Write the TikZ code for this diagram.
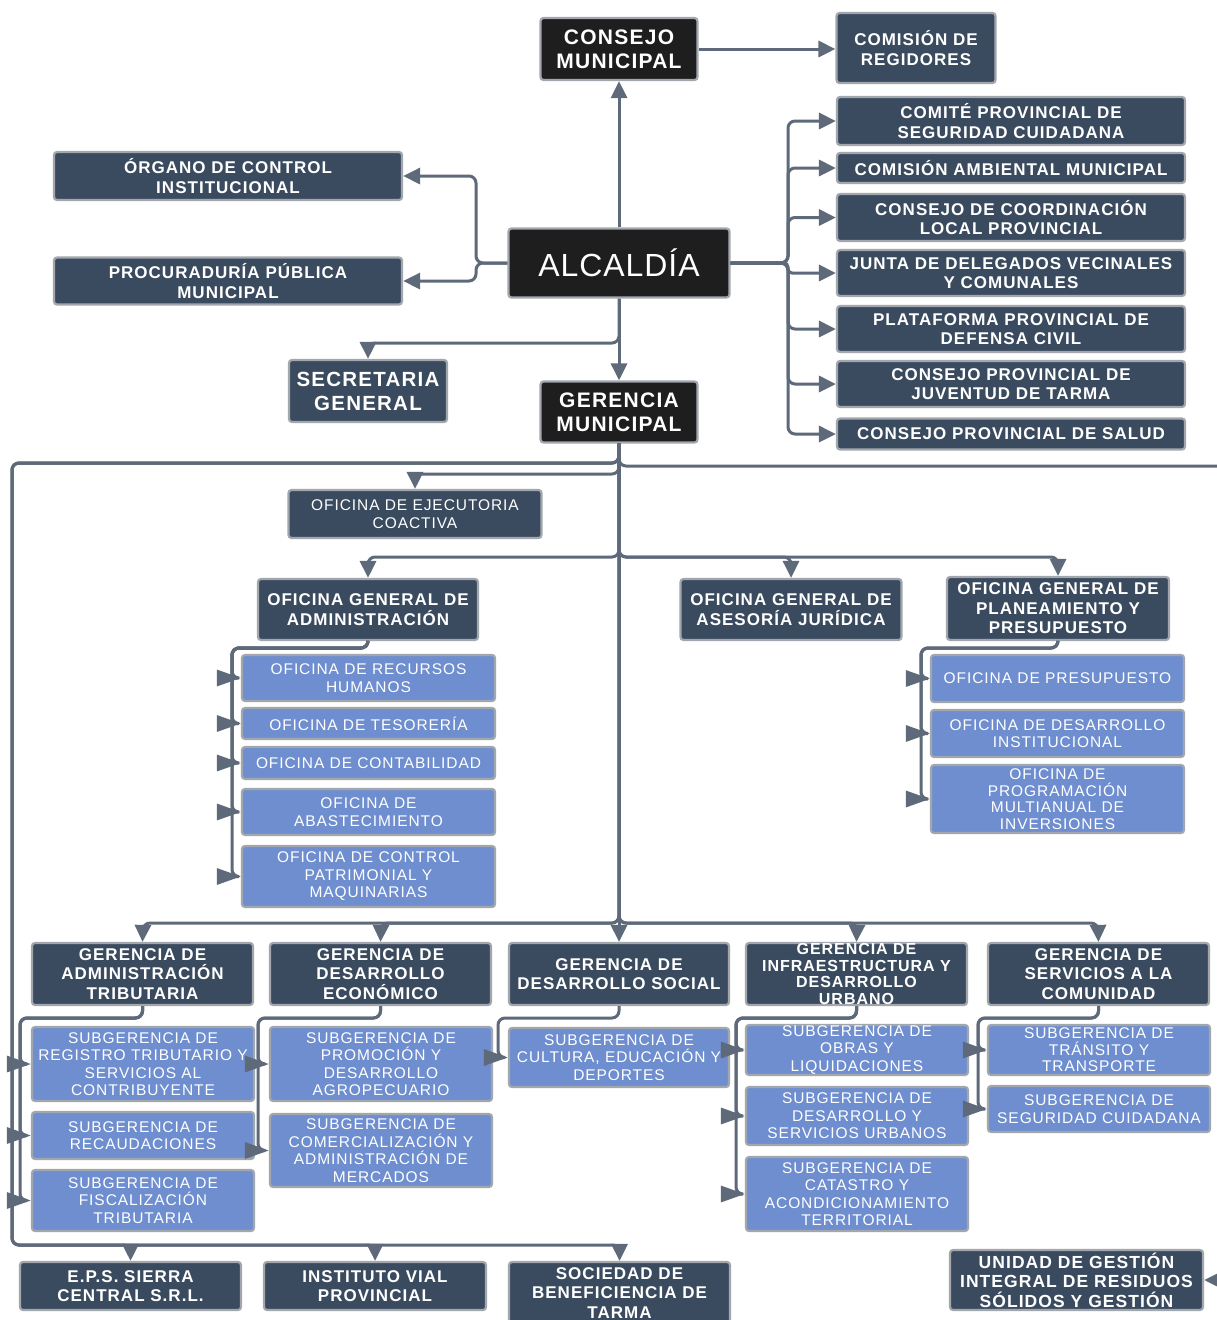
\documentclass[tikz,border=0pt]{standalone}
\usepackage{fontspec}
\setmainfont{Liberation Sans}
\newfontfamily\dkf[LetterSpace=6]{Liberation Sans}
\newfontfamily\ltf[LetterSpace=6]{Liberation Sans}
\newfontfamily\alf[LetterSpace=3]{Liberation Sans}
\usetikzlibrary{arrows.meta}
\definecolor{dkC}{HTML}{3B4B5F}
\definecolor{bkC}{HTML}{1E1E1E}
\definecolor{ltC}{HTML}{6E8ECF}
\definecolor{bdC}{HTML}{A2A7AD}
\definecolor{cnC}{HTML}{5E6A7A}
\tikzset{
 box/.style={rounded corners=3pt, draw=bdC, line width=2.2pt, inner sep=1pt, align=center, text=white},
 dk/.style={box, fill=dkC, font=\dkf\bfseries\fontsize{17}{19.5}\selectfont},
 bk/.style={box, fill=bkC, font=\dkf\bfseries\fontsize{21}{24}\selectfont},
 lt/.style={box, fill=ltC, font=\ltf\fontsize{15.5}{17.5}\selectfont},
 sz/.style 2 args={minimum width=#1pt, minimum height=#2pt},
 conn/.style={draw=cnC, line width=3pt, rounded corners=7pt},
 arr/.style={conn, -{Triangle[length=17pt,width=16pt]}},
 sarr/.style={conn, -{Triangle[length=24pt,width=16pt]}},
}
\begin{document}
\begin{tikzpicture}[x=1pt,y=-1pt]
\useasboundingbox (0,0) rectangle (1217,1320);
\clip (0,0) rectangle (1217,1320);
\fill[white] (0,0) rectangle (1217,1320);

% top level
\node[bk, sz={157}{62}] (cm) at (619,49) {CONSEJO\\MUNICIPAL};
\node[dk, sz={159}{70}] (creg) at (916,48) {COMISIÓN DE\\REGIDORES};
\node[bk, sz={221}{69}, font=\alf\fontsize{32}{36}\selectfont] (alc) at (619,263) {ALCALDÍA};
\node[dk, sz={348}{48}] (oci) at (228,176) {ÓRGANO DE CONTROL\\INSTITUCIONAL};
\node[dk, sz={348}{47}] (ppm) at (228,281) {PROCURADURÍA PÚBLICA\\MUNICIPAL};
\node[dk, sz={348}{48}] (r1) at (1011,121) {COMITÉ PROVINCIAL DE\\SEGURIDAD CUIDADANA};
\node[dk, sz={348}{30}] (r2) at (1011,168) {COMISIÓN AMBIENTAL MUNICIPAL};
\node[dk, sz={348}{47}] (r3) at (1011,217.5) {CONSEJO DE COORDINACIÓN\\LOCAL PROVINCIAL};
\node[dk, sz={348}{46}] (r4) at (1011,273) {JUNTA DE DELEGADOS VECINALES\\Y COMUNALES};
\node[dk, sz={348}{46}] (r5) at (1011,329) {PLATAFORMA PROVINCIAL DE\\DEFENSA CIVIL};
\node[dk, sz={348}{46}] (r6) at (1011,384) {CONSEJO PROVINCIAL DE\\JUVENTUD DE TARMA};
\node[dk, sz={348}{31}] (r7) at (1011,434) {CONSEJO PROVINCIAL DE SALUD};
\node[dk, sz={158}{62}, font=\dkf\bfseries\fontsize{20.5}{24}\selectfont] (sg) at (368,391) {SECRETARIA\\GENERAL};
\node[bk, sz={157}{61}] (gm) at (619,412) {GERENCIA\\MUNICIPAL};

% offices
\node[dk, sz={253}{48}, font=\ltf\fontsize{15.5}{18}\selectfont] (oec) at (415,514) {OFICINA DE EJECUTORIA\\COACTIVA};
\node[dk, sz={220}{61}] (oga) at (368,609.5) {OFICINA GENERAL DE\\ADMINISTRACIÓN};
\node[dk, sz={221}{61}] (oaj) at (791,609.5) {OFICINA GENERAL DE\\ASESORÍA JURÍDICA};
\node[dk, sz={222}{63}] (opp) at (1058,608.5) {OFICINA GENERAL DE\\PLANEAMIENTO Y\\PRESUPUESTO};

\node[lt, sz={253}{46}] (a1) at (368.5,678) {OFICINA DE RECURSOS\\HUMANOS};
\node[lt, sz={253}{31}] (a2) at (368.5,723.5) {OFICINA DE TESORERÍA};
\node[lt, sz={253}{32}] (a3) at (368.5,763) {OFICINA DE CONTABILIDAD};
\node[lt, sz={253}{46}] (a4) at (368.5,812) {OFICINA DE\\ABASTECIMIENTO};
\node[lt, sz={253}{61}] (a5) at (368.5,876.5) {OFICINA DE CONTROL\\PATRIMONIAL Y\\MAQUINARIAS};

\node[lt, sz={253}{47}] (p1) at (1057.5,678.5) {OFICINA DE PRESUPUESTO};
\node[lt, sz={253}{47}] (p2) at (1057.5,733.5) {OFICINA DE DESARROLLO\\INSTITUCIONAL};
\node[lt, sz={253}{68}, font=\ltf\fontsize{15.5}{16.5}\selectfont, inner sep=0pt] (p3) at (1057.5,799) {OFICINA DE\\PROGRAMACIÓN\\MULTIANUAL DE\\INVERSIONES};

% gerencias
\node[dk, sz={221}{62}] (g1) at (142.5,974) {GERENCIA DE\\ADMINISTRACIÓN\\TRIBUTARIA};
\node[dk, sz={221}{62}] (g2) at (380.5,974) {GERENCIA DE\\DESARROLLO\\ECONÓMICO};
\node[dk, sz={220}{62}] (g3) at (619,974) {GERENCIA DE\\DESARROLLO SOCIAL};
\node[dk, sz={221}{62}, font=\dkf\bfseries\fontsize{16}{16.5}\selectfont, inner sep=0pt] (g4) at (856.5,974) {GERENCIA DE\\INFRAESTRUCTURA Y\\DESARROLLO\\URBANO};
\node[dk, sz={221}{62}] (g5) at (1098.5,974) {GERENCIA DE\\SERVICIOS A LA\\COMUNIDAD};

\node[lt, sz={222}{74}] (t1) at (143,1064) {SUBGERENCIA DE\\REGISTRO TRIBUTARIO Y\\SERVICIOS AL\\CONTRIBUYENTE};
\node[lt, sz={222}{47}] (t2) at (143,1135.5) {SUBGERENCIA DE\\RECAUDACIONES};
\node[lt, sz={222}{61}] (t3) at (143,1200.5) {SUBGERENCIA DE\\FISCALIZACIÓN\\TRIBUTARIA};
\node[lt, sz={222}{74}] (e1) at (381,1064) {SUBGERENCIA DE\\PROMOCIÓN Y\\DESARROLLO\\AGROPECUARIO};
\node[lt, sz={222}{73}] (e2) at (381,1150.5) {SUBGERENCIA DE\\COMERCIALIZACIÓN Y\\ADMINISTRACIÓN DE\\MERCADOS};
\node[lt, sz={220}{59}] (s1) at (619,1057.5) {SUBGERENCIA DE\\CULTURA, EDUCACIÓN Y\\DEPORTES};
\node[lt, sz={222}{50}, inner sep=0pt] (i1) at (857,1050) {SUBGERENCIA DE\\OBRAS Y\\LIQUIDACIONES};
\node[lt, sz={222}{58}] (i2) at (857,1116) {SUBGERENCIA DE\\DESARROLLO Y\\SERVICIOS URBANOS};
\node[lt, sz={222}{74}] (i3) at (857,1194) {SUBGERENCIA DE\\CATASTRO Y\\ACONDICIONAMIENTO\\TERRITORIAL};
\node[lt, sz={222}{50}, inner sep=0pt, font=\ltf\fontsize{15.5}{16.5}\selectfont] (v1) at (1099,1050) {SUBGERENCIA DE\\TRÁNSITO Y\\TRANSPORTE};
\node[lt, sz={222}{46}] (v2) at (1099,1109) {SUBGERENCIA DE\\SEGURIDAD CUIDADANA};

% bottom
\node[dk, sz={221}{48}] (eps) at (130.5,1286) {E.P.S. SIERRA\\CENTRAL S.R.L.};
\node[dk, sz={222}{48}] (ivp) at (375,1286) {INSTITUTO VIAL\\PROVINCIAL};
\node[dk, sz={221}{62}] (sbt) at (619.5,1293) {SOCIEDAD DE\\BENEFICIENCIA DE\\TARMA};
\node[dk, sz={253}{60}, font=\dkf\bfseries\fontsize{17.5}{19.5}\selectfont] (ugi) at (1076.5,1280) {UNIDAD DE GESTIÓN\\INTEGRAL DE RESIDUOS\\SÓLIDOS Y GESTIÓN};

% helper coordinates
\coordinate (lb) at (476,263);
\coordinate (rb) at (788,263);
\coordinate (sgk) at (368,343);
\coordinate (lb1) at (12,463);
\coordinate (lb2) at (12,1245);
\coordinate (rt) at (1240,466);
\coordinate (ek) at (415,474);
\coordinate (k1) at (368,557);
\coordinate (k2) at (791,557);
\coordinate (k3) at (1058,557);
\coordinate (ab) at (232,648);
\coordinate (pb) at (921,648);
\coordinate (gb1) at (143,923);
\coordinate (gb2) at (381,923);
\coordinate (gb4) at (857,923);
\coordinate (gb5) at (1098,923);
\coordinate (tb) at (20,1018);
\coordinate (eb) at (258,1018);
\coordinate (sb) at (498,1018);
\coordinate (ib) at (736,1018);
\coordinate (vb) at (978,1018);

% connectors: top
\draw[arr] (alc.north) -- (cm.south);
\draw[arr] (cm.east) -- (creg.west |- cm.east);
\draw[arr] (alc.west) -- (lb) |- (oci.east);
\draw[arr] (alc.west) -- (lb) |- (ppm.east);
\foreach \r in {r1,r2,r3,r5,r6,r7}{\draw[arr] (alc.east) -- (rb) |- (\r.west);}
\draw[arr, rounded corners=4pt] (alc.east) -- (rb) |- (r4.west);
\draw[arr] (alc.south) -- (gm.north);
\draw[arr] (alc.south) |- (sgk) -- (sg.north);

% from gerencia municipal
\draw[arr] (gm.south) |- (lb1) -- (lb2) -| (eps.north);
\draw[arr] (gm.south) |- (lb1) -- (lb2) -| (ivp.north);
\draw[arr] (gm.south) |- (lb1) -- (lb2) -| (sbt.north);
\draw[arr] (gm.south) |- (rt) |- (ugi.east);
\draw[arr] (gm.south) |- (ek) -- (oec.north);
\draw[arr] (gm.south) |- (k1) -- (oga.north);
\draw[arr] (gm.south) |- (k2) -- (oaj.north);
\draw[arr] (gm.south) |- (k3) -- (opp.north);
\draw[arr] (gm.south) |- (gb1) -- (g1.north);
\draw[arr] (gm.south) |- (gb2) -- (g2.north);
\draw[arr] (gm.south) -- (g3.north);
\draw[arr] (gm.south) |- (gb4) -- (g4.north);
\draw[arr] (gm.south) |- (gb5) -- (g5.north);

% sub-branches
\foreach \n in {a1,a2,a3,a4,a5}{\draw[sarr] (oga.south) |- (ab) |- (\n.west);}
\foreach \n in {p1,p2,p3}{\draw[sarr] (opp.south) |- (pb) |- (\n.west);}
\foreach \n in {t1,t2,t3}{\draw[sarr] (g1.south) |- (tb) |- (\n.west);}
\foreach \n in {e1,e2}{\draw[sarr] (g2.south) |- (eb) |- (\n.west);}
\draw[sarr] (g3.south) |- (sb) |- (s1.west);
\foreach \n in {i1,i2,i3}{\draw[sarr] (g4.south) |- (ib) |- (\n.west);}
\foreach \n in {v1,v2}{\draw[sarr] (g5.south) |- (vb) |- (\n.west);}
\end{tikzpicture}
\end{document}
